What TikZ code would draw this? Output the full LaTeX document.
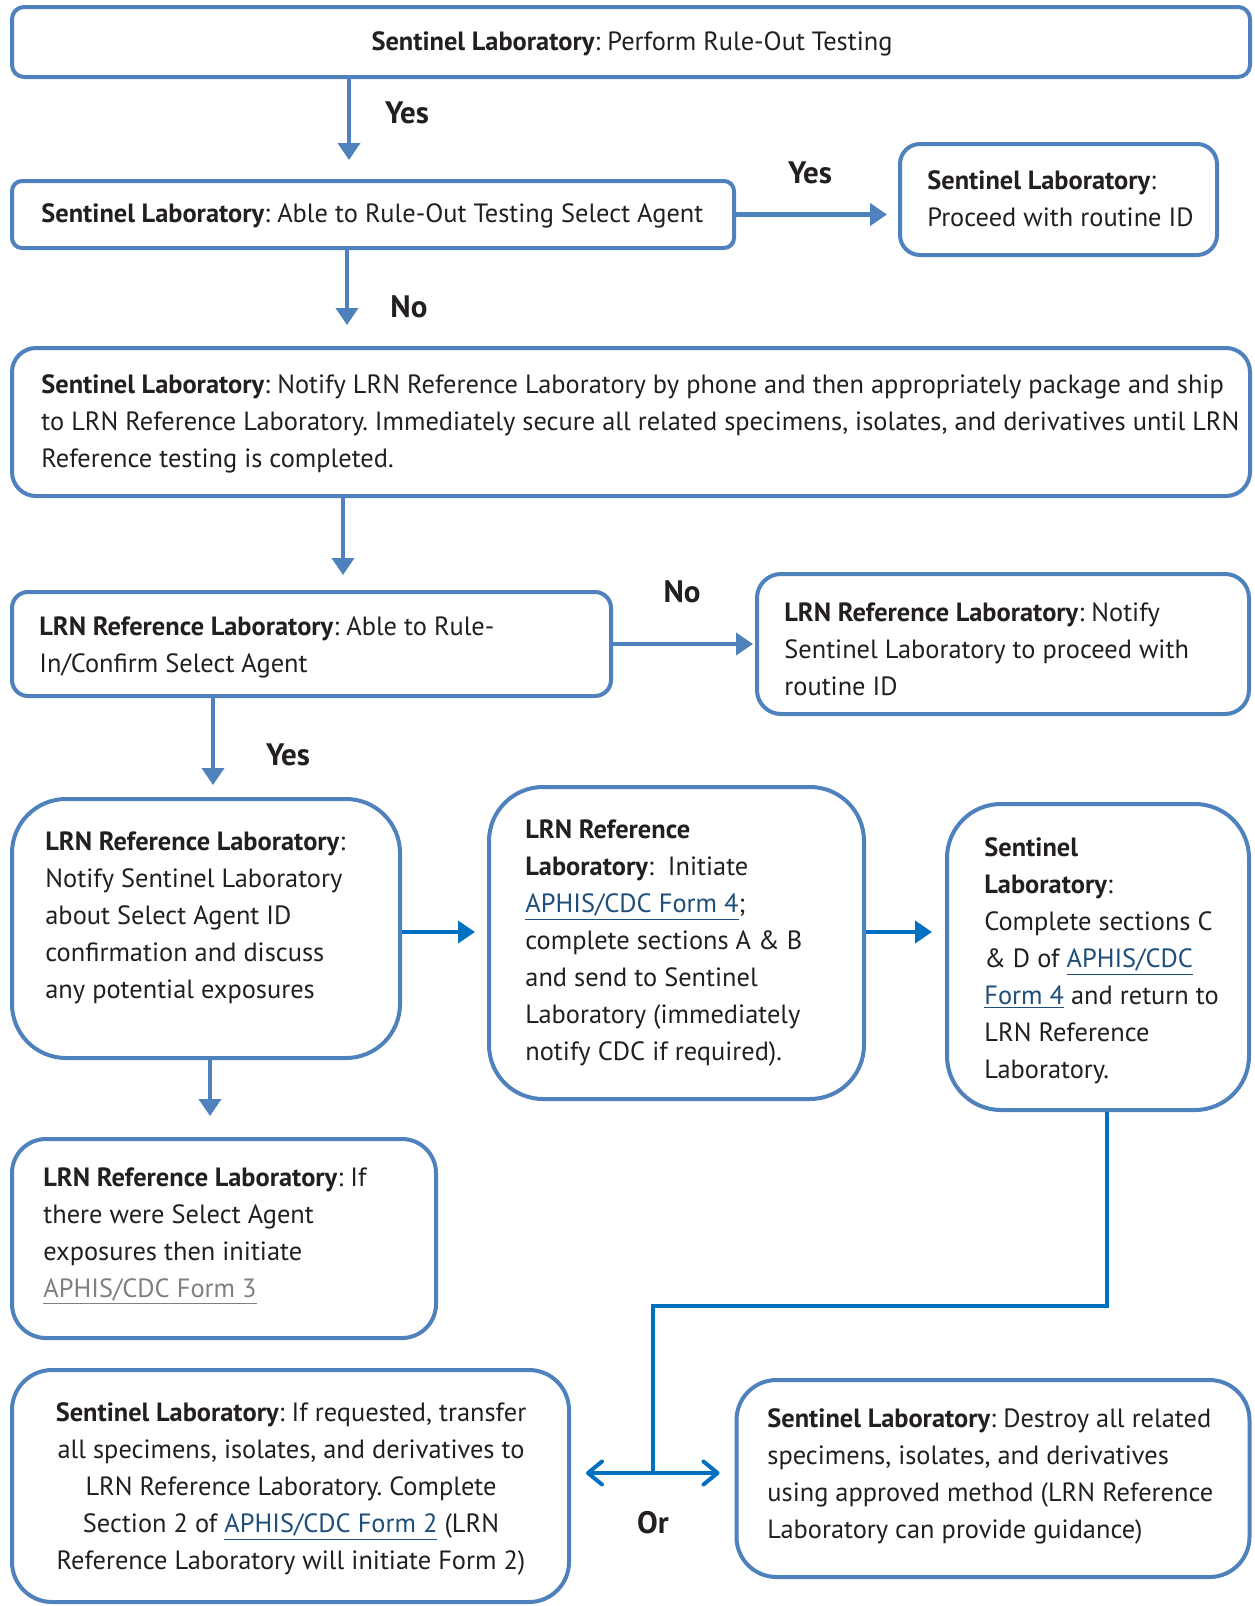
\documentclass[tikz,border=0pt]{standalone}
\usepackage{fontspec}
\setmainfont{PT Sans}
\usetikzlibrary{arrows.meta,calc}
\definecolor{boxblue}{RGB}{79,129,189}
\definecolor{brightblue}{RGB}{0,112,192}
\definecolor{linkblue}{RGB}{31,78,121}
\definecolor{linkgray}{RGB}{128,128,128}
\definecolor{txt}{RGB}{35,31,32}
\newcommand\lnk[1]{\textcolor{linkblue}{\underline{#1}}}
\newcommand\glnk[1]{\textcolor{linkgray}{\underline{#1}}}
\frenchspacing
\begin{document}
\begin{tikzpicture}[x=0.5pt,y=-0.5pt,
  box/.style={draw=boxblue, line width=2pt, fill=white, inner sep=0pt},
  txtnode/.style={inner sep=0pt, align=left, text=txt, font=\fontsize{13.2pt}{18.5pt}\selectfont},
  lbl/.style={inner sep=0pt, text=txt, font=\fontsize{15.5pt}{18pt}\selectfont\bfseries},
  arr/.style={draw=boxblue, line width=1.9pt, -{Triangle[width=11pt,length=8.5pt]}},
  barr/.style={draw=brightblue, line width=1.9pt, -{Triangle[width=11pt,length=8.5pt]}},
  conn/.style={draw=brightblue, line width=1.9pt},
  darr/.style={draw=brightblue, line width=2pt, -{Straight Barb[width=11.5pt,length=7pt,round]}}
]
\useasboundingbox (0,0) rectangle (1254,1606);

% boxes
\node[box, rounded corners=6pt, minimum width=619pt, minimum height=35pt] (b1) at (631,42) {};
\node[box, rounded corners=5pt, minimum width=361pt, minimum height=33.5pt] (b2) at (373,214.5) {};
\node[box, rounded corners=10pt, minimum width=158.5pt, minimum height=55.5pt] (b3) at (1058.5,199.5) {};
\node[box, rounded corners=12pt, minimum width=619pt, minimum height=74pt] (b4) at (631,422) {};
\node[box, rounded corners=8pt, minimum width=299.5pt, minimum height=52pt] (b5) at (311.5,644) {};
\node[box, rounded corners=12pt, minimum width=246pt, minimum height=70pt] (b6) at (1003,644) {};
\node[box, rounded corners=27pt, minimum width=194pt, minimum height=129.5pt] (b7) at (206,928.5) {};
\node[box, rounded corners=27pt, minimum width=187.5pt, minimum height=156pt] (b8) at (676.5,943) {};
\node[box, rounded corners=27pt, minimum width=151pt, minimum height=153pt] (b9) at (1098,957) {};
\node[box, rounded corners=17pt, minimum width=212pt, minimum height=99.5pt] (b10) at (224,1238.5) {};
\node[box, rounded corners=20pt, minimum width=278.5pt, minimum height=116pt] (b11) at (290.5,1486) {};
\node[box, rounded corners=20pt, minimum width=256.5pt, minimum height=98.5pt] (b12) at (993,1478.5) {};

% texts
\node[txtnode, align=center] (t1) at (632,44) {\textbf{Sentinel Laboratory}: Perform Rule-Out Testing};
\node[txtnode, anchor=west] (t2) at (41,216) {\textbf{Sentinel Laboratory}: Able to Rule-Out Testing Select Agent};
\node[txtnode, anchor=west] (t3) at (927,199) {\textbf{Sentinel Laboratory}:\\Proceed with routine ID};
\node[txtnode, anchor=west] (t4) at (41,424) {\textbf{Sentinel Laboratory}: Notify LRN Reference Laboratory by phone and then appropriately package and ship\\to LRN Reference Laboratory. Immediately secure all related specimens, isolates, and derivatives until LRN\\Reference testing is completed.};
\node[txtnode, anchor=west] (t5) at (39,647) {\textbf{LRN Reference Laboratory}: Able to Rule-\\In/Confirm Select Agent};
\node[txtnode, anchor=west] (t6) at (784,649) {\textbf{LRN Reference Laboratory}: Notify\\Sentinel Laboratory to proceed with\\routine ID};
\node[txtnode, anchor=west] (t7) at (45,918) {\textbf{LRN Reference Laboratory}:\\Notify Sentinel Laboratory\\about Select Agent ID\\confirmation and discuss\\any potential exposures};
\node[txtnode, anchor=west] (t8) at (525,943) {\textbf{LRN Reference}\\\textbf{Laboratory}:\ \ Initiate\\\lnk{APHIS/CDC Form 4};\\complete sections A \& B\\and send to Sentinel\\Laboratory (immediately\\notify CDC if required).};
\node[txtnode, anchor=west] (t9) at (984,961) {\textbf{Sentinel}\\\textbf{Laboratory}:\\Complete sections C\\\& D of \lnk{APHIS/CDC}\\\lnk{Form 4} and return to\\LRN Reference\\Laboratory.};
\node[txtnode, anchor=west] (t10) at (43,1236) {\textbf{LRN Reference Laboratory}: If\\there were Select Agent\\exposures then initiate\\\glnk{APHIS/CDC Form 3}};
\node[txtnode, align=center] (t11) at (291,1489) {\textbf{Sentinel Laboratory}: If requested, transfer\\all specimens, isolates, and derivatives to\\LRN Reference Laboratory. Complete\\Section 2 of \lnk{APHIS/CDC Form 2} (LRN\\Reference Laboratory will initiate Form 2)};
\node[txtnode, anchor=west] (t12) at (767,1476) {\textbf{Sentinel Laboratory}: Destroy all related\\specimens, isolates, and derivatives\\using approved method (LRN Reference\\Laboratory can provide guidance)};

% labels
\node[lbl] (l1) at (407,113) {Yes};
\node[lbl] (l2) at (810,173) {Yes};
\node[lbl] (l3) at (409,307) {No};
\node[lbl] (l4) at (682,592) {No};
\node[lbl] (l5) at (288,755) {Yes};
\node[lbl] (l6) at (653,1523) {Or};

% helper coordinates
\coordinate (x1) at (349,0);
\coordinate (x2) at (347,0);
\coordinate (x3) at (343,0);
\coordinate (x5) at (213,0);
\coordinate (x7) at (210,0);
\coordinate (y78) at (0,932);
\coordinate (xr) at (1107,0);
\coordinate (bendpt) at (653,1306);
\coordinate (split) at (653,1473);

% connectors
\draw[arr, shorten >=9.5pt] (b1.south -| x1) -- (b2.north -| x1);
\draw[arr, line width=2.3pt, shorten >=5.5pt] (b2.east) -- (b2.east -| b3.west);
\draw[arr, shorten >=10.5pt] (b2.south -| x2) -- (b4.north -| x2);
\draw[arr, shorten >=7.5pt] (b4.south -| x3) -- (b5.north -| x3);
\draw[arr, shorten >=1pt] (b5.east) -- (b5.east -| b6.west);
\draw[arr, shorten >=6pt] (b5.south -| x5) -- (b7.north -| x5);
\draw[barr, shorten >=6pt] (b7.east |- y78) -- (b8.west |- y78);
\draw[barr, shorten >=6.5pt] (b8.east |- y78) -- (b9.west |- y78);
\draw[arr, shorten >=10.5pt] (b7.south -| x7) -- (b10.north -| x7);
\draw[conn] (b9.south -| xr) |- (bendpt) -- (split);
\draw[darr, shorten >=7.5pt] (split) -- (split -| b11.east);
\draw[darr, shorten >=7.5pt] (split) -- (split -| b12.west);
\end{tikzpicture}
\end{document}
